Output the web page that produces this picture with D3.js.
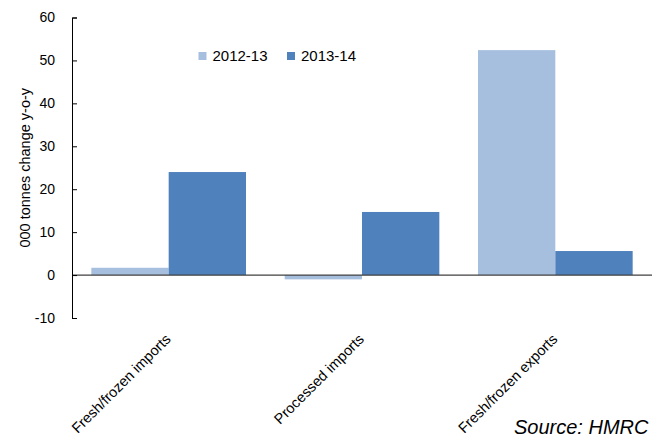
<!DOCTYPE html>
<html>
<head>
<meta charset="utf-8">
<script src="https://cdn.jsdelivr.net/npm/d3@7/dist/d3.min.js"></script>
<style>
  html, body { margin: 0; padding: 0; background: #fff; }
  svg { display: block; }
  text { font-family: "Liberation Sans", Arial, sans-serif; fill: #000; }
</style>
</head>
<body>
<svg id="chart" width="666" height="440"></svg>
<script>
// Seafood trade volumes, change on previous year (thousand tonnes)
const categories = ["Fresh/frozen imports", "Processed imports", "Fresh/frozen exports"];
const seriesNames = ["2012-13", "2013-14"];
const values2012_13 = [1.7, -1.0, 52.4];
const values2013_14 = [24.0, 14.7, 5.6];
const yTicks = [-10, 0, 10, 20, 30, 40, 50, 60];
const yTickLabels = ["-10", "0", "10", "20", "30", "40", "50", "60"];
const colors = ["#a7bfde", "#4f81bd"];

const seriesValues = [values2012_13, values2013_14];
const rows = categories.map((c, i) => ({
  category: c,
  values: seriesNames.map((s, j) => ({ series: s, value: seriesValues[j][i] }))
}));

const svg = d3.select("#chart");
const plot = { left: 72, right: 652, top: 17.5, bottom: 318 };

const y = d3.scaleLinear().domain([-10, 60]).range([plot.bottom, plot.top]);
const x0 = d3.scaleBand().domain(categories).range([plot.left, plot.right]).padding(0);
const x1 = d3.scaleBand().domain(seriesNames).range([0, x0.bandwidth()])
  .paddingInner(0).paddingOuter(0.25);
const color = d3.scaleOrdinal().domain(seriesNames).range(colors);

// Bars
const groups = svg.append("g").selectAll("g")
  .data(rows).join("g")
  .attr("transform", d => `translate(${x0(d.category)},0)`);

groups.selectAll("rect")
  .data(d => d.values).join("rect")
  .attr("x", d => x1(d.series))
  .attr("width", x1.bandwidth())
  .attr("y", d => y(Math.max(0, d.value)))
  .attr("height", d => Math.abs(y(d.value) - y(0)))
  .attr("fill", d => color(d.series));

// Zero line across the plot
svg.append("line")
  .attr("x1", plot.left).attr("x2", plot.right)
  .attr("y1", y(0)).attr("y2", y(0))
  .attr("stroke", "#404040").attr("stroke-width", 1.2);

// Value axis
const yAxis = svg.append("g")
  .attr("transform", `translate(${plot.left},0)`)
  .call(d3.axisLeft(y).tickValues(yTicks)
    .tickFormat((d, i) => yTickLabels[i])
    .tickSizeInner(-5).tickSizeOuter(-5).tickPadding(17));
yAxis.selectAll("path, line").attr("stroke", "#000");
yAxis.selectAll("text")
  .style("font-family", "'Liberation Sans', Arial, sans-serif")
  .style("font-size", "14px").attr("fill", "#000");

// Value axis title
svg.append("text")
  .attr("transform", `translate(30,${(plot.top + plot.bottom) / 2}) rotate(-90)`)
  .attr("text-anchor", "middle")
  .style("font-size", "14.5px")
  .text("000 tonnes change y-o-y");

// Category labels, slanted
const xAxis = svg.append("g")
  .attr("transform", `translate(0,${plot.bottom})`)
  .call(d3.axisBottom(x0).tickSize(0).tickPadding(0));
xAxis.select(".domain").remove();
xAxis.selectAll("text")
  .style("font-family", "'Liberation Sans', Arial, sans-serif")
  .style("font-size", "14.5px").attr("fill", "#000")
  .attr("text-anchor", "end")
  .attr("x", 3).attr("y", 22).attr("dy", 0)
  .attr("transform", "rotate(-45 3 22)");

// Legend
const legend = svg.append("g").selectAll("g")
  .data(seriesNames).join("g")
  .attr("transform", (d, i) => `translate(${[198.5, 287][i]},52)`);
legend.append("rect")
  .attr("width", 8).attr("height", 8)
  .attr("fill", d => color(d));
legend.append("text")
  .attr("x", 14).attr("y", 8.7)
  .style("font-size", "15px")
  .text(d => d);

// Source note
svg.append("text")
  .attr("x", 514).attr("y", 434)
  .style("font-size", "20px").style("font-style", "italic")
  .text("Source: HMRC");
</script>
</body>
</html>
